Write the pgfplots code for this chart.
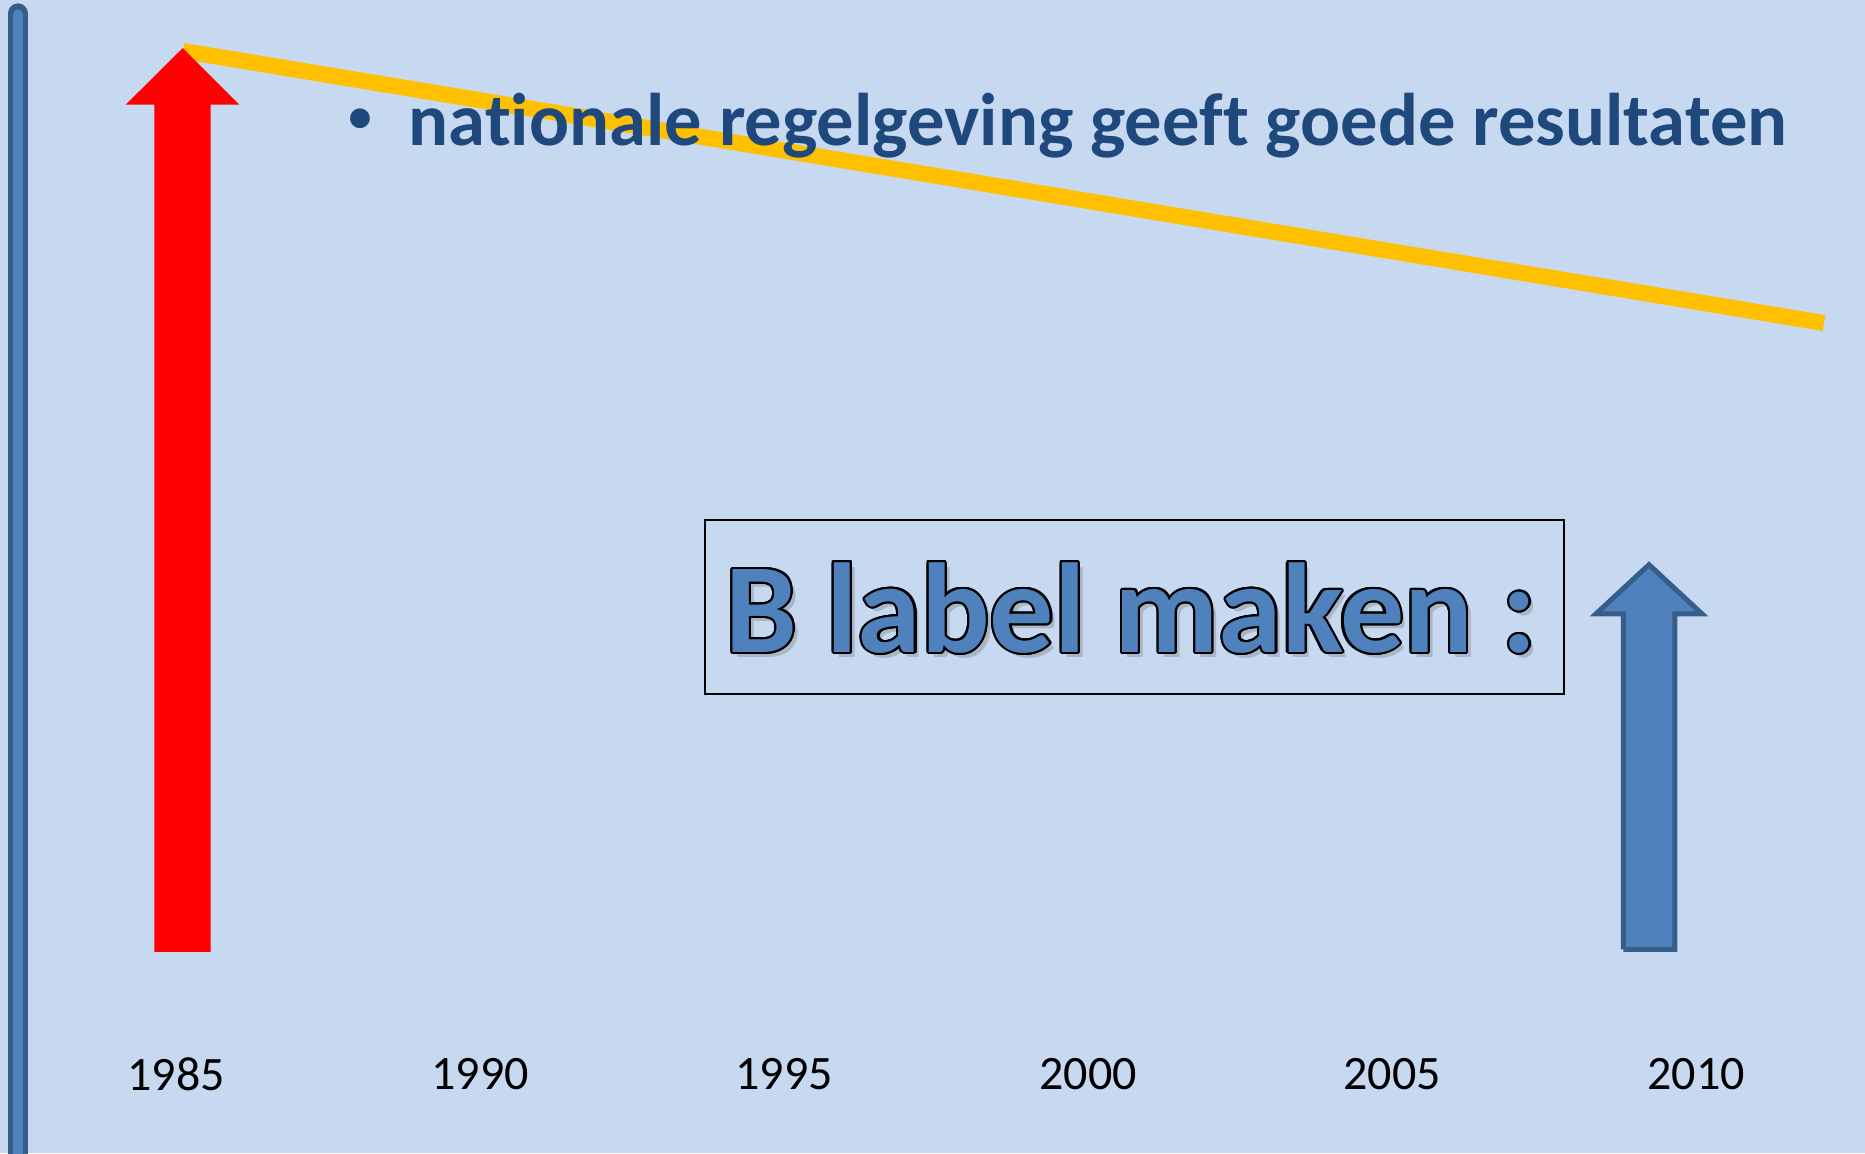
\documentclass[border=0pt]{standalone}
\usepackage{fontspec}
\setmainfont{Carlito}[Ligatures=NoCommon]
\usepackage{pgfplots}
\pgfplotsset{compat=1.18}
\definecolor{bgc}{HTML}{C6D9F0}
\definecolor{bluec}{HTML}{4F81BD}
\definecolor{bordc}{HTML}{385D8A}
\definecolor{yelc}{HTML}{FFC000}
\definecolor{titc}{HTML}{1F497D}
\newcommand\bigtxt{B label maken :}
\begin{document}
\begin{tikzpicture}
\begin{axis}[
  scale only axis, width=466.25pt, height=288.25pt,
  xmin=1982.105, xmax=2012.780, ymin=0, ymax=1153,
  axis background/.style={fill=bgc},
  axis line style={draw=none},
  major tick length=0pt,
  xtick={1985,1990,1995,2000,2005,2010},
  xticklabels={1985,1990,1995,2000,2005,2010},
  ytick=\empty,
  xticklabel style={anchor=center, yshift=19.75pt, font=\fontsize{12}{14}\selectfont, text=black},
]
% left vertical bar
\addplot[color=bordc, line width=5pt, line cap=round] coordinates {(1982.401,1140) (1982.401,-30)};
\addplot[color=bluec, line width=2.5pt, line cap=round] coordinates {(1982.401,1139) (1982.401,-30)};
% yellow line
\addplot[color=yelc, line width=4pt] coordinates {(1985.115,1102.4) (2012.105,830.4)};
% red arrow
\addplot[draw=none, fill=red] coordinates {(1984.643,201.5) (1984.643,1048.7) (1984.173,1048.7) (1985.110,1105.3) (1986.041,1048.7) (1985.571,1048.7) (1985.571,201.5) (1984.643,201.5)};
% blue arrow
\addplot[draw=bordc, fill=bluec, line width=1.25pt, line join=miter] coordinates {(2008.807,204) (2008.807,539.5) (2008.355,539.5) (2009.227,588.7) (2010.099,539.5) (2009.651,539.5) (2009.651,204) (2008.807,204)};
% box
\draw[black, line width=0.5pt] (axis cs:1993.701,459) rectangle (axis cs:2007.829,633);
% title
\coordinate (bul) at (axis cs:1988.026,1031.5);
\coordinate (tit) at (axis cs:1988.816,1008);
\coordinate (bt) at (axis cs:2000.715,501);
\end{axis}
\node[text=titc, font=\fontsize{14}{14}\selectfont, inner sep=0pt] at (bul) {\textbullet};
\node[anchor=base west, text=titc, font=\bfseries\fontsize{18.65}{20}\selectfont, inner sep=0pt] at (tit) {nationale regelgeving geeft goede resultaten};
% big text with shadow and outline
\node[anchor=base, text=black!60, opacity=0.3, font=\bfseries\fontsize{32}{33}\selectfont, inner sep=0pt, xshift=1.2pt, yshift=-1.2pt] at (bt) {\bigtxt};
\foreach \ang in {0,22.5,...,337.5}{
  \node[anchor=base, text=black, font=\bfseries\fontsize{32}{33}\selectfont, inner sep=0pt, xshift={0.55pt*cos(\ang)}, yshift={0.55pt*sin(\ang)}] at (bt) {\bigtxt};
}
\node[anchor=base, text=bluec, font=\bfseries\fontsize{32}{33}\selectfont, inner sep=0pt] at (bt) {\bigtxt};
\end{tikzpicture}
\end{document}
